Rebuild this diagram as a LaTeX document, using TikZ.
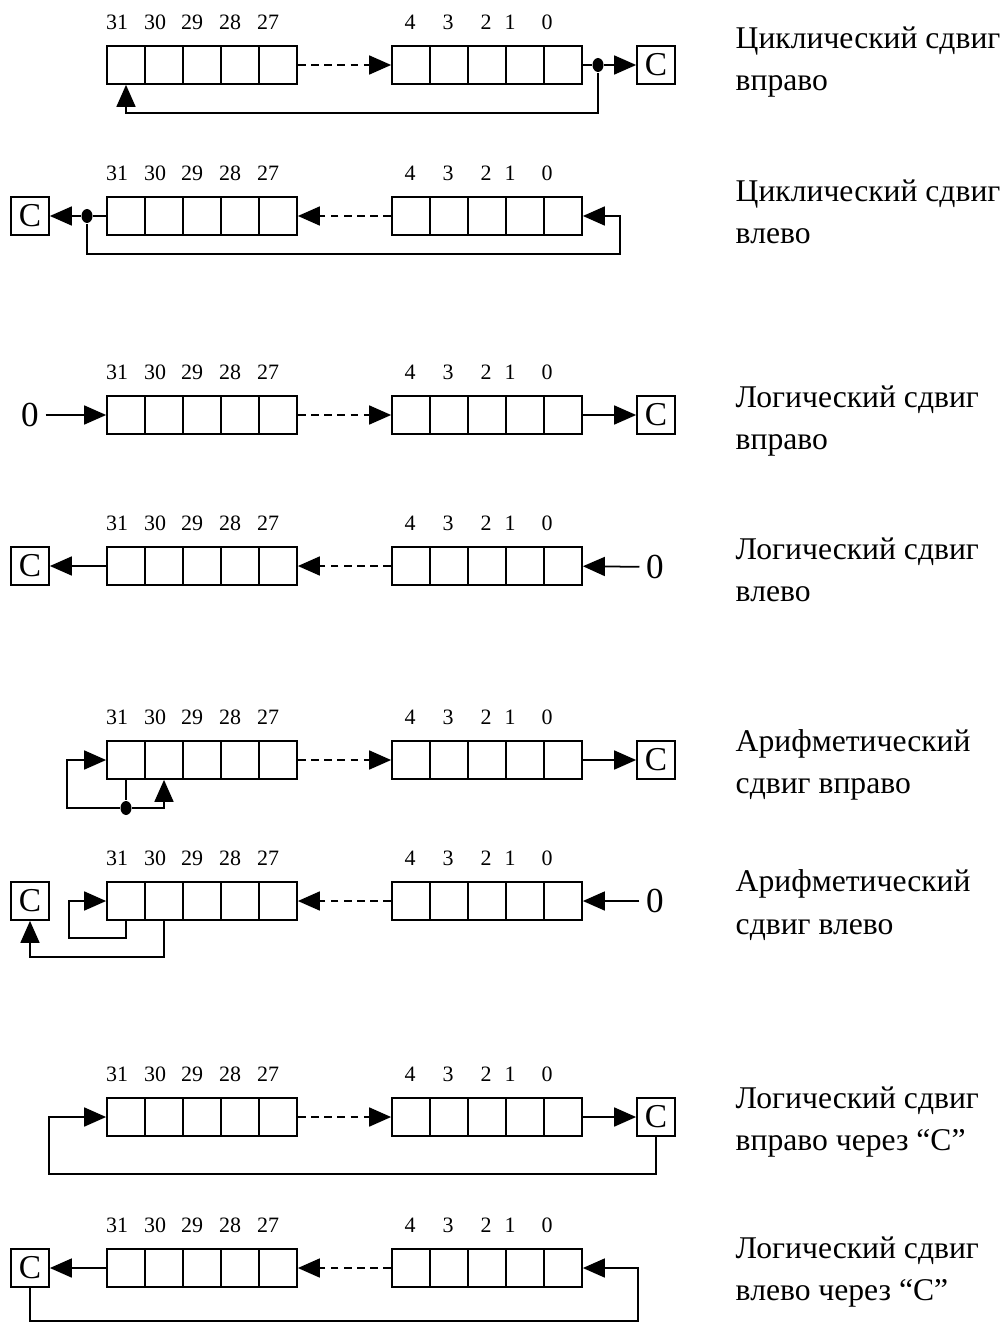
\documentclass[tikz,border=0pt]{standalone}
\usepackage{fontspec}
\setmainfont{Liberation Serif}
\usetikzlibrary{arrows.meta,shapes.geometric}
\tikzset{
  shiftfig/.style={x=0.02cm,y=-0.02cm,line width=1pt},
  cell/.style={draw,minimum width=0.76cm,minimum height=0.76cm,inner sep=0pt},
  cbox/.style={draw,minimum width=0.76cm,minimum height=0.76cm,inner sep=0pt,font=\fontsize{19}{20}\selectfont},
  bit/.style={font=\fontsize{12.5}{14}\selectfont},
  zero/.style={font=\fontsize{20}{22}\selectfont},
  dot/.style={ellipse,fill,inner sep=0pt,minimum width=0.22cm,minimum height=0.28cm},
  arr/.style={-{Triangle[length=0.44cm,width=0.38cm]}},
  dsh/.style={dash pattern=on 4.5pt off 3pt},
  lbl/.style={anchor=west,align=left,font=\fontsize{18}{24}\selectfont},
}

\begin{document}
\begin{tikzpicture}[shiftfig]
    \useasboundingbox (0,0) rectangle (1005,1324);
    % registers: 5 high bits, 5 low bits, bit numbers above
    \foreach \row/\y in {1/65,2/216,3/415,4/566,5/760,6/901,7/1117,8/1268} {
      \foreach \b/\x in {31/126,30/164,29/202,28/240,27/278,4/411,3/449,2/487,1/525,0/563}
        \node[cell] (r\row-\b) at (\x,\y) {};
      \foreach \b/\x in {31/117,30/155,29/192,28/230,27/268,4/410,3/448,2/486,1/510,0/547}
        \node[bit] (n\row-\b) at (\x,{\y-43}) {\b};
    }
    % carry boxes and zeros
    \node[cbox] (c1) at (656,65) {C};
    \node[cbox] (c2) at (30,216) {C};
    \node[cbox] (c3) at (656,415) {C};
    \node[cbox] (c4) at (30,566) {C};
    \node[cbox] (c5) at (656,760) {C};
    \node[cbox] (c6) at (30,901) {C};
    \node[cbox] (c7) at (656,1117) {C};
    \node[cbox] (c8) at (30,1268) {C};
    \node[zero] (z3) at (30,415) {0};
    \node[zero] (z4) at (655,567) {0};
    \node[zero] (z6) at (655,901) {0};
    % row 1: cyclic right
    \node[dot] (d1) at (598,65) {};
    \coordinate (f1) at (598,113);
    \draw[arr,dsh] (r1-27) -- (r1-4);
    \draw (r1-0) -- (d1);
    \draw[arr] (d1) -- (c1);
    \draw[arr] (d1) -- (f1) -| (r1-31.south); % feedback
    % row 2: cyclic left
    \node[dot] (d2) at (87,216) {};
    \coordinate (f2a) at (87,254);
    \coordinate (f2b) at (620,216);
    \draw[arr,dsh] (r2-4) -- (r2-27);
    \draw (r2-31) -- (d2);
    \draw[arr] (d2) -- (c2);
    \draw[arr] (d2) -- (f2a) -| (f2b) -- (r2-0); % feedback
    % row 3: logical right
    \draw[arr] (z3) -- (r3-31);
    \draw[arr,dsh] (r3-27) -- (r3-4);
    \draw[arr] (r3-0) -- (c3);
    % row 4: logical left
    \draw[arr] (r4-31) -- (c4);
    \draw[arr,dsh] (r4-4) -- (r4-27);
    \draw[arr] (z4) -- (r4-0);
    % row 5: arithmetic right
    \node[dot] (d5) at (126,808) {};
    \coordinate (f5) at (67,808);
    \draw[arr,dsh] (r5-27) -- (r5-4);
    \draw[arr] (r5-0) -- (c5);
    \draw (r5-31.south) -- (d5);
    \draw[arr] (d5) -- (f5) |- (r5-31.west); % sign bit kept
    \draw[arr] (d5) -| (r5-30.south);
    % row 6: arithmetic left
    \coordinate (g6a) at (69,938);
    \coordinate (g6b) at (30,957);
    \draw[arr,dsh] (r6-4) -- (r6-27);
    \draw[arr] (z6) -- (r6-0);
    \draw[arr] (r6-31.south) |- (g6a) |- (r6-31.west);
    \draw[arr] (r6-30.south) |- (g6b) -- (c6.south);
    % row 7: logical right through C
    \coordinate (f7) at (49,1174);
    \draw[arr,dsh] (r7-27) -- (r7-4);
    \draw[arr] (r7-0) -- (c7);
    \draw[arr] (c7.south) |- (f7) |- (r7-31.west);
    % row 8: logical left through C
    \coordinate (f8) at (638,1321);
    \draw[arr] (r8-31) -- (c8);
    \draw[arr,dsh] (r8-4) -- (r8-27);
    \draw[arr] (c8.south) |- (f8) |- (r8-0.east);
    % captions
    \node[lbl] (t1) at (729,62) {Циклический сдвиг\\вправо};
    \node[lbl] (t2) at (729,212) {Циклический сдвиг\\влево};
    \node[lbl] (t3) at (729,421) {Логический сдвиг\\вправо};
    \node[lbl] (t4) at (729,570) {Логический сдвиг\\влево};
    \node[lbl] (t5) at (729,765) {Арифметический\\сдвиг вправо};
    \node[lbl] (t6) at (729,905) {Арифметический\\сдвиг влево};
    \node[lbl] (t7) at (729,1122) {Логический сдвиг\\вправо через “C”};
    \node[lbl] (t8) at (729,1272) {Логический сдвиг\\влево через “C”};
\end{tikzpicture}
\end{document}
